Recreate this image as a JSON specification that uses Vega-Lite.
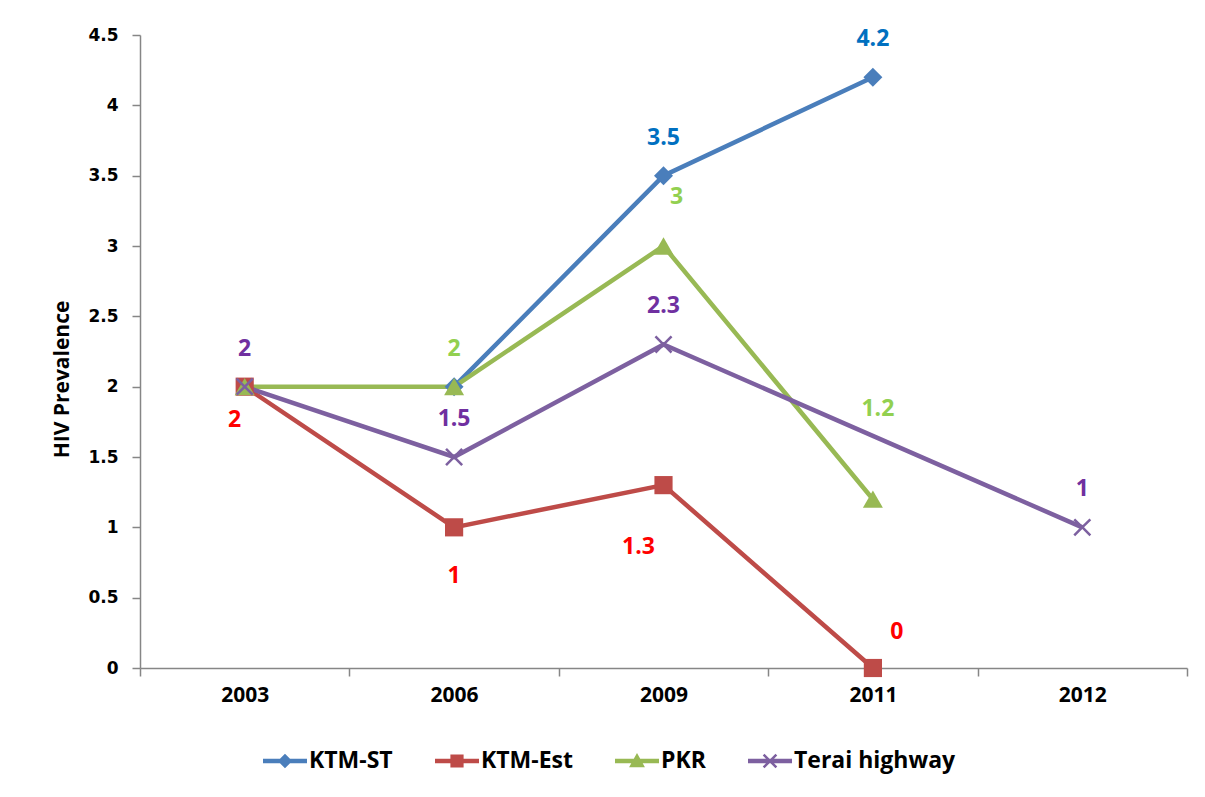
{
  "$schema": "https://vega.github.io/schema/vega-lite/v6.json",
  "width": 1047,
  "height": 633,
  "autosize": {"type": "none"},
  "padding": {"left": 140, "top": 35, "right": 18, "bottom": 129},
  "background": "white",
  "config": {
    "view": {"stroke": null},
    "axis": {
      "domainColor": "#868686",
      "tickColor": "#868686",
      "domainWidth": 1.5,
      "tickWidth": 1.5,
      "tickSize": 8,
      "grid": false,
      "labelColor": "black"
    },
    "legend": {
      "orient": "none",
      "legendX": 123,
      "legendY": 704,
      "direction": "horizontal",
      "columns": 4,
      "symbolSize": 1936,
      "symbolStrokeWidth": 0,
      "symbolOpacity": 1,
      "labelFont": "Open Sans",
      "labelFontWeight": "bold",
      "labelFontSize": 23,
      "labelColor": "black",
      "labelOffset": 2,
      "columnPadding": 42,
      "labelLimit": 300
    }
  },
  "data": {
    "values": [
      {"year": "2006", "series": "KTM-ST", "value": 2},
      {"year": "2009", "series": "KTM-ST", "value": 3.5},
      {"year": "2011", "series": "KTM-ST", "value": 4.2},
      {"year": "2003", "series": "KTM-Est", "value": 2},
      {"year": "2006", "series": "KTM-Est", "value": 1},
      {"year": "2009", "series": "KTM-Est", "value": 1.3},
      {"year": "2011", "series": "KTM-Est", "value": 0},
      {"year": "2003", "series": "PKR", "value": 2},
      {"year": "2006", "series": "PKR", "value": 2},
      {"year": "2009", "series": "PKR", "value": 3},
      {"year": "2011", "series": "PKR", "value": 1.2},
      {"year": "2003", "series": "Terai highway", "value": 2},
      {"year": "2006", "series": "Terai highway", "value": 1.5},
      {"year": "2009", "series": "Terai highway", "value": 2.3},
      {"year": "2012", "series": "Terai highway", "value": 1}
    ]
  },
  "encoding": {
    "x": {
      "field": "year",
      "type": "ordinal",
      "scale": {"type": "band", "domain": ["2003", "2006", "2009", "2011", "2012"], "paddingInner": 0, "paddingOuter": 0},
      "axis": {
        "title": null,
        "labelAngle": 0,
        "tickBand": "extent",
        "labelFont": "Open Sans",
        "labelFontWeight": "bold",
        "labelFontSize": 21,
        "labelPadding": 8
      }
    },
    "y": {
      "field": "value",
      "type": "quantitative",
      "scale": {"domain": [0, 4.5], "nice": false, "zero": true},
      "axis": {
        "title": "HIV Prevalence",
        "values": [0, 0.5, 1, 1.5, 2, 2.5, 3, 3.5, 4, 4.5],
        "format": "~g",
        "labelFont": "DejaVu Sans",
        "labelFontWeight": "bold",
        "labelFontSize": 17,
        "labelPadding": 14,
        "titleFont": "Open Sans",
        "titleFontWeight": "bold",
        "titleFontSize": 21,
        "titleColor": "black",
        "titleX": -78,
        "titleY": 344,
        "titleAngle": -90,
        "titleBaseline": "middle",
        "titleAlign": "center"
      }
    },
    "color": {
      "field": "series",
      "type": "nominal",
      "scale": {"domain": ["KTM-ST", "KTM-Est", "PKR", "Terai highway"], "range": ["#4a7ebb", "#be4b48", "#98b954", "#7d60a0"]},
      "legend": {
        "title": null,
        "encode": {
          "symbols": {
            "update": {
              "shape": {"signal": "datum.value === 'KTM-ST' ? 'M-1,-0.1L1,-0.1L1,0.1L-1,0.1Z M-0.33,0L0,-0.33L0.33,0L0,0.33Z' : datum.value === 'KTM-Est' ? 'M-1,-0.1L1,-0.1L1,0.1L-1,0.1Z M-0.3,-0.3L0.3,-0.3L0.3,0.3L-0.3,0.3Z' : datum.value === 'PKR' ? 'M-1,-0.1L1,-0.1L1,0.1L-1,0.1Z M0,-0.36L0.36,0.28L-0.36,0.28Z' : 'M-1,-0.1L1,-0.1L1,0.1L-1,0.1Z M-0.25,-0.33L0,-0.08L0.25,-0.33L0.33,-0.25L0.08,0L0.33,0.25L0.25,0.33L0,0.08L-0.25,0.33L-0.33,0.25L-0.08,0L-0.33,-0.25Z'"},
              "fill": {"signal": "scale('color', datum.value)"},
              "strokeWidth": {"value": 0}
            }
          }
        }
      }
    }
  },
  "layer": [
    {
      "mark": {"type": "line", "strokeWidth": 4.5},
      "encoding": {"order": {"field": "year"}}
    },
    {
      "transform": [{"filter": "datum.series === 'KTM-ST'"}],
      "mark": {"type": "point", "shape": "diamond", "filled": true, "opacity": 1, "size": 360, "strokeWidth": 0}
    },
    {
      "transform": [{"filter": "datum.series === 'KTM-Est'"}],
      "mark": {"type": "point", "shape": "square", "filled": true, "opacity": 1, "size": 330, "strokeWidth": 0}
    },
    {
      "transform": [{"filter": "datum.series === 'PKR'"}],
      "mark": {"type": "point", "shape": "triangle-up", "filled": true, "opacity": 1, "size": 400, "strokeWidth": 0}
    },
    {
      "transform": [{"filter": "datum.series === 'Terai highway'"}],
      "mark": {"type": "point", "shape": "M-0.8,-1L0,-0.2L0.8,-1L1,-0.8L0.2,0L1,0.8L0.8,1L0,0.2L-0.8,1L-1,0.8L-0.2,0L-1,-0.8Z", "filled": true, "opacity": 1, "size": 320, "strokeWidth": 0}
    },
    {
      "transform": [{"filter": "(datum.series === 'KTM-ST' && datum.year !== '2006') || datum.series === 'Terai highway' || (datum.series === 'PKR' && datum.year === '2006')"}],
      "mark": {"type": "text", "dy": -38, "font": "Open Sans", "fontWeight": "bold", "fontSize": 23, "baseline": "middle", "align": "center"},
      "encoding": {
        "color": null,
        "text": {"field": "value", "type": "quantitative", "format": "~g"},
        "fill": {"field": "series", "type": "nominal", "scale": {"domain": ["KTM-ST", "KTM-Est", "PKR", "Terai highway"], "range": ["#0070c0", "#ff0000", "#92d050", "#7030a0"]}, "legend": null}
      }
    },
    {
      "transform": [{"filter": "datum.series === 'PKR' && datum.year === '2009'"}],
      "mark": {"type": "text", "dx": 13, "dy": -49, "font": "Open Sans", "fontWeight": "bold", "fontSize": 23, "baseline": "middle", "align": "center"},
      "encoding": {
        "color": null,
        "text": {"field": "value", "type": "quantitative", "format": "~g"},
        "fill": {"field": "series", "type": "nominal", "scale": {"domain": ["KTM-ST", "KTM-Est", "PKR", "Terai highway"], "range": ["#0070c0", "#ff0000", "#92d050", "#7030a0"]}, "legend": null}
      }
    },
    {
      "transform": [{"filter": "datum.series === 'PKR' && datum.year === '2011'"}],
      "mark": {"type": "text", "dx": 5, "dy": -90, "font": "Open Sans", "fontWeight": "bold", "fontSize": 23, "baseline": "middle", "align": "center"},
      "encoding": {
        "color": null,
        "text": {"field": "value", "type": "quantitative", "format": "~g"},
        "fill": {"field": "series", "type": "nominal", "scale": {"domain": ["KTM-ST", "KTM-Est", "PKR", "Terai highway"], "range": ["#0070c0", "#ff0000", "#92d050", "#7030a0"]}, "legend": null}
      }
    },
    {
      "transform": [{"filter": "datum.series === 'KTM-Est' && datum.year === '2003'"}],
      "mark": {"type": "text", "dx": -10, "dy": 33, "font": "Open Sans", "fontWeight": "bold", "fontSize": 23, "baseline": "middle", "align": "center"},
      "encoding": {
        "color": null,
        "text": {"field": "value", "type": "quantitative", "format": "~g"},
        "fill": {"field": "series", "type": "nominal", "scale": {"domain": ["KTM-ST", "KTM-Est", "PKR", "Terai highway"], "range": ["#0070c0", "#ff0000", "#92d050", "#7030a0"]}, "legend": null}
      }
    },
    {
      "transform": [{"filter": "datum.series === 'KTM-Est' && datum.year === '2006'"}],
      "mark": {"type": "text", "dy": 49, "font": "Open Sans", "fontWeight": "bold", "fontSize": 23, "baseline": "middle", "align": "center"},
      "encoding": {
        "color": null,
        "text": {"field": "value", "type": "quantitative", "format": "~g"},
        "fill": {"field": "series", "type": "nominal", "scale": {"domain": ["KTM-ST", "KTM-Est", "PKR", "Terai highway"], "range": ["#0070c0", "#ff0000", "#92d050", "#7030a0"]}, "legend": null}
      }
    },
    {
      "transform": [{"filter": "datum.series === 'KTM-Est' && datum.year === '2009'"}],
      "mark": {"type": "text", "dx": -25, "dy": 62, "font": "Open Sans", "fontWeight": "bold", "fontSize": 23, "baseline": "middle", "align": "center"},
      "encoding": {
        "color": null,
        "text": {"field": "value", "type": "quantitative", "format": "~g"},
        "fill": {"field": "series", "type": "nominal", "scale": {"domain": ["KTM-ST", "KTM-Est", "PKR", "Terai highway"], "range": ["#0070c0", "#ff0000", "#92d050", "#7030a0"]}, "legend": null}
      }
    },
    {
      "transform": [{"filter": "datum.series === 'KTM-Est' && datum.year === '2011'"}],
      "mark": {"type": "text", "dx": 24, "dy": -36, "font": "Open Sans", "fontWeight": "bold", "fontSize": 23, "baseline": "middle", "align": "center"},
      "encoding": {
        "color": null,
        "text": {"field": "value", "type": "quantitative", "format": "~g"},
        "fill": {"field": "series", "type": "nominal", "scale": {"domain": ["KTM-ST", "KTM-Est", "PKR", "Terai highway"], "range": ["#0070c0", "#ff0000", "#92d050", "#7030a0"]}, "legend": null}
      }
    }
  ]
}
